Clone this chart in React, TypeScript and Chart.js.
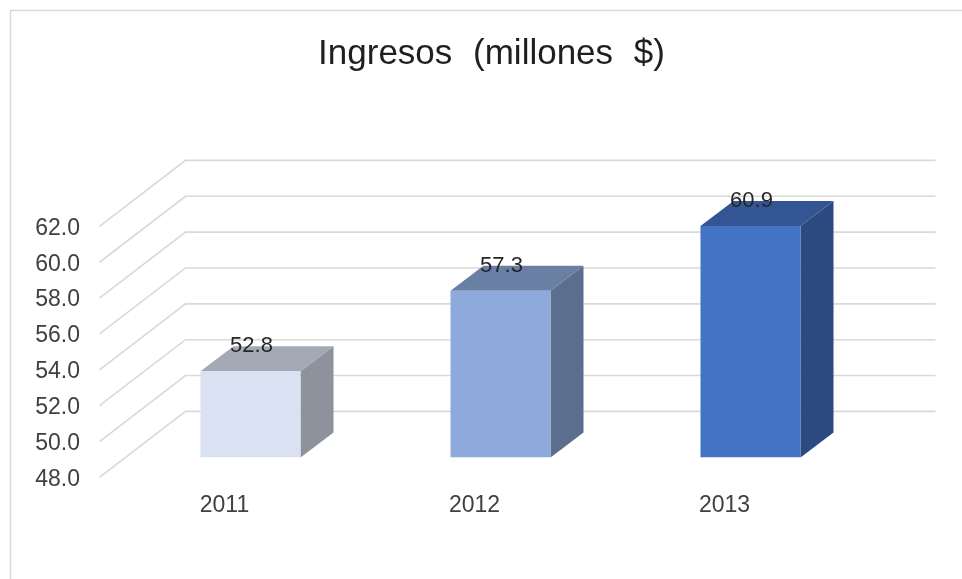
import React, { useEffect, useRef } from "react";
import { Chart, registerables } from "chart.js";

Chart.register(...registerables);

const years = ["2011", "2012", "2013"];
const revenue = [52.8, 57.3, 60.9];
const frontColors = ["#D9E1F2", "#8EA9DB", "#4472C4"];
const topColors = ["#A3A9B5", "#6A7FA4", "#335594"];
const sideColors = ["#8D929D", "#5C6E8E", "#2C4A80"];

const FONT = "'Liberation Sans', Arial, sans-serif";
const GRID = "#D9D9D9";
const TEXT = "#404040";

// Oblique projection offsets, in pixels, relative to the plane the bars stand on.
const FLOOR_FRONT = { dx: -26, dy: 20 };
const WALL_BACK = { dx: 60, dy: -46 };
const BAR_DEPTH = { dx: 33, dy: -25 };
const VALUE_LABEL_DROP = 22;

const frame3d = {
  id: "frame3d",
  beforeDraw(chart: any) {
    const { ctx, width, height } = chart;
    ctx.save();
    ctx.fillStyle = "#FFFFFF";
    ctx.fillRect(0, 0, width, height);
    ctx.strokeStyle = "#D9D9D9";
    ctx.lineWidth = 1.5;
    ctx.beginPath();
    ctx.moveTo(10.5, height);
    ctx.lineTo(10.5, 10.5);
    ctx.lineTo(width, 10.5);
    ctx.stroke();
    ctx.restore();
    // The title is set with generous gaps between its words.
    ctx.wordSpacing = "11px";
  },
  beforeDatasetsDraw(chart: any) {
    const { ctx, chartArea, scales } = chart;
    const y = scales.y;
    ctx.save();
    ctx.strokeStyle = GRID;
    ctx.lineWidth = 1.6;
    y.ticks.forEach((tick: any) => {
      const py = y.getPixelForValue(tick.value);
      ctx.beginPath();
      ctx.moveTo(chartArea.left + FLOOR_FRONT.dx, py + FLOOR_FRONT.dy);
      ctx.lineTo(chartArea.left + WALL_BACK.dx, py + WALL_BACK.dy);
      ctx.lineTo(chartArea.right + WALL_BACK.dx, py + WALL_BACK.dy);
      ctx.stroke();
    });
    // Side and top faces sit behind the front face that the bar element paints.
    chart.getDatasetMeta(0).data.forEach((bar: any, i: number) => {
      const half = bar.width / 2;
      const l = bar.x - half;
      const r = bar.x + half;
      const t = bar.y;
      const b = bar.base;
      ctx.fillStyle = sideColors[i];
      ctx.beginPath();
      ctx.moveTo(r, t);
      ctx.lineTo(r + BAR_DEPTH.dx, t + BAR_DEPTH.dy);
      ctx.lineTo(r + BAR_DEPTH.dx, b + BAR_DEPTH.dy);
      ctx.lineTo(r, b);
      ctx.closePath();
      ctx.fill();
      ctx.fillStyle = topColors[i];
      ctx.beginPath();
      ctx.moveTo(l, t);
      ctx.lineTo(l + BAR_DEPTH.dx, t + BAR_DEPTH.dy);
      ctx.lineTo(r + BAR_DEPTH.dx, t + BAR_DEPTH.dy);
      ctx.lineTo(r, t);
      ctx.closePath();
      ctx.fill();
    });
    ctx.restore();
  },
  afterDatasetsDraw(chart: any) {
    const { ctx } = chart;
    ctx.save();
    ctx.fillStyle = "#262626";
    ctx.font = `22px ${FONT}`;
    ctx.textAlign = "center";
    ctx.textBaseline = "middle";
    chart.getDatasetMeta(0).data.forEach((bar: any, i: number) => {
      ctx.fillText(revenue[i].toFixed(1), bar.x + 1, bar.y + BAR_DEPTH.dy);
    });
    ctx.restore();
  },
};

export default function App() {
  const canvasRef = useRef<HTMLCanvasElement>(null);

  useEffect(() => {
    const chart = new Chart(canvasRef.current!, {
      type: "bar",
      data: {
        labels: years,
        datasets: [
          {
            data: revenue,
            base: 48,
            backgroundColor: frontColors,
            borderWidth: 0,
            categoryPercentage: 1,
            barPercentage: 0.4,
          },
        ],
      },
      options: {
        responsive: false,
        animation: false,
        devicePixelRatio: 1,
        layout: { padding: { left: 21, right: 0, top: 0, bottom: 26 } },
        plugins: {
          legend: { display: false },
          tooltip: { enabled: false },
          title: {
            display: true,
            text: "Ingresos (millones $)",
            color: "#1F1F1F",
            font: { family: FONT, size: 35, weight: "normal", lineHeight: 1.2 },
            padding: { top: 33, bottom: 131.4 },
          },
        },
        scales: {
          x: {
            grid: { display: false, drawTicks: false },
            border: { display: false },
            ticks: {
              color: TEXT,
              font: { family: FONT, size: 23 },
              padding: 34,
              labelOffset: FLOOR_FRONT.dx,
              maxRotation: 0,
            },
          },
          y: {
            min: 48,
            max: 62,
            afterFit(scale: any) {
              scale.width = 104.5;
            },
            grid: { display: false, drawTicks: false },
            border: { display: false },
            ticks: {
              stepSize: 2,
              autoSkip: false,
              color: TEXT,
              font: { family: FONT, size: 23 },
              padding: 45.5,
              labelOffset: VALUE_LABEL_DROP,
              callback: (value: any) => Number(value).toFixed(1),
            },
          },
          // Empty margin on the right, where the receding back wall extends.
          yMargin: {
            position: "right",
            min: 48,
            max: 62,
            afterFit(scale: any) {
              scale.width = 86.5;
            },
            grid: { display: false, drawTicks: false },
            border: { display: false },
            ticks: { display: false },
          },
        },
      },
      plugins: [frame3d],
    });
    return () => chart.destroy();
  }, []);

  return (
    <div style={{ position: "absolute", left: 0, top: 0, width: 962, height: 579 }}>
      <canvas ref={canvasRef} width={962} height={579} style={{ display: "block" }} />
    </div>
  );
}
